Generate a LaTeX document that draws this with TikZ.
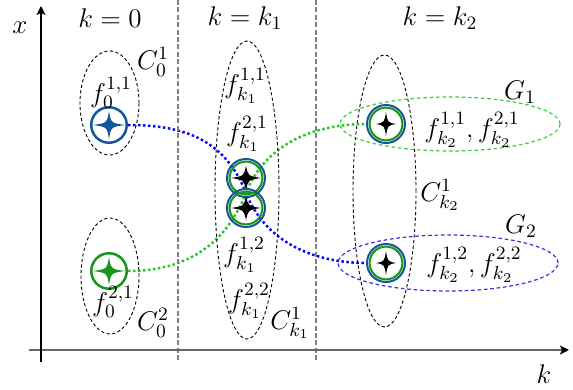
\RequirePackage{fix-cm}
\documentclass[tikz,border=0pt]{standalone}
\usetikzlibrary{arrows.meta,shapes.geometric,calc,backgrounds}
\definecolor{nblue}{RGB}{20,85,155}
\definecolor{ngreen}{RGB}{25,150,25}
\definecolor{lblue}{RGB}{10,10,240}
\definecolor{lgreen}{RGB}{40,200,40}
\definecolor{gblue}{RGB}{50,50,230}
\definecolor{ggreen}{RGB}{60,205,60}
% #1 colour, #2 half width, #3 half height, #4 control (all pt numbers)
\newcommand{\fourstar}[4]{\fill[#1,shift={(path picture bounding box.center)}]
  (0pt,#3pt) .. controls (#4pt,#4pt) .. (#2pt,0pt) .. controls (#4pt,-#4pt) .. (0pt,-#3pt)
  .. controls (-#4pt,-#4pt) .. (-#2pt,0pt) .. controls (-#4pt,#4pt) .. cycle;}
\tikzset{
  lbl/.style={font=\fontsize{13.5}{16}\selectfont, inner sep=0pt},
  zeronode/.style={circle, draw=#1, line width=1.25pt, minimum size=17.75pt, inner sep=0pt,
     path picture={\fourstar{#1}{8}{7}{1}}},
  konenode/.style={circle, draw=nblue, line width=1pt, minimum size=19pt, inner sep=0pt,
     path picture={\draw[ngreen,line width=1pt] (path picture bounding box.center) circle (8.2pt);
       \fourstar{black}{7.5}{6.25}{1}}},
  ktwonode/.style={circle, draw=nblue, line width=1pt, minimum size=19pt, inner sep=0pt,
     path picture={\draw[ngreen,line width=1pt] (path picture bounding box.center) circle (8.2pt);
       \fourstar{black}{5}{6}{0.8}}},
  cluster/.style={ellipse, draw=black, line width=0.45pt, dash pattern=on 1.6pt off 1.2pt, inner sep=0pt},
  grpgreen/.style={ellipse, draw=ggreen, line width=0.6pt, dash pattern=on 1.8pt off 1.4pt, inner sep=0pt},
  grpblue/.style={ellipse, draw=gblue, line width=0.6pt, dash pattern=on 1.8pt off 1.4pt, inner sep=0pt},
  bdot/.style={lblue, line width=1.25pt, dash pattern=on 1.25pt off 1.25pt},
  gdot/.style={lgreen, line width=1.25pt, dash pattern=on 1.25pt off 1.25pt},
  sep/.style={gray, line width=0.9pt, dash pattern=on 2.5pt off 1.2pt},
}
\begin{document}
\begin{tikzpicture}[x=0.5pt,y=-0.5pt]
\useasboundingbox (0,0) rectangle (573,390);

% separators
\draw[sep] (178,0) -- (178,362);
\draw[sep] (316,0) -- (316,362);

% axes
\coordinate (xa0) at (29,350);
\coordinate (xa1) at (569,350);
\coordinate (ya0) at (41,362);
\coordinate (ya1) at (41,6);
\draw[black!60, line width=0.9pt, -{Stealth[black,length=4.5pt,width=4.5pt,inset=1pt]}] (xa0) -- (xa1);
\draw[black, line width=0.7pt, -{Stealth[length=4.5pt,width=4.5pt,inset=1pt]}] (ya0) -- (ya1);
\node[lbl] (xl) at (20,28) {$x$};
\node[lbl] (kl) at (544,374) {$k$};

% headers
\node[lbl] (h0) at (110,18) {$k=0$};
\node[lbl] (h1) at (245,18) {$k=k_1$};
\node[lbl] (h2) at (440,18) {$k=k_2$};

% cluster ellipses
\node[cluster, minimum width=29.5pt, minimum height=52pt] (C01) at (109.5,103) {};
\node[cluster, minimum width=29pt, minimum height=58pt] (C02) at (110,276) {};
\node[cluster, minimum width=32pt, minimum height=149pt] (Ck1) at (247,190) {};
\node[cluster, minimum width=31.5pt, minimum height=136pt] (Ck2) at (384.5,191) {};
\node[grpgreen, minimum width=110pt, minimum height=27pt] (G1e) at (450,124) {};
\node[grpblue, minimum width=110pt, minimum height=28pt] (G2e) at (448,263) {};

% points
\node[zeronode=nblue] (n0a) at (109,125) {};
\node[zeronode=ngreen] (n0b) at (109,271) {};
\node[konenode] (k1a) at (246,178) {};
\node[konenode] (k1b) at (246,208) {};
\node[ktwonode] (k2a) at (386,124) {};
\node[ktwonode] (k2b) at (386,263) {};
\coordinate (m) at ($(k1a)!0.5!(k1b)$);

% trajectories
\begin{scope}[on background layer]
\draw[bdot] (n0a.east) .. controls (185,125) and (225,140) .. (m)
   .. controls (267,246) and (320,263) .. (k2b.west);
\draw[gdot] (n0b.east) .. controls (185,271) and (225,246) .. (m)
   .. controls (267,140) and (320,124) .. (k2a.west);
\end{scope}

% labels
\node[lbl] (f011) at (111,93) {$f_0^{1,1}$};
\node[lbl] (c01) at (153,62) {$C_0^1$};
\node[lbl] (f021) at (113,302) {$f_0^{2,1}$};
\node[lbl] (c02) at (153,323) {$C_0^2$};
\node[lbl] (fk111) at (245,86) {$f_{k_1}^{1,1}$};
\node[lbl] (fk121) at (247,134) {$f_{k_1}^{2,1}$};
\node[lbl] (fk112) at (244,255) {$f_{k_1}^{1,2}$};
\node[lbl] (fk122) at (249,301) {$f_{k_1}^{2,2}$};
\node[lbl] (ck1) at (290,323) {$C_{k_1}^1$};
\node[lbl] (ck2) at (440,195) {$C_{k_2}^1$};
\node[lbl] (g1) at (520,92) {$G_1$};
\node[lbl] (g2) at (521,226) {$G_2$};
\node[lbl] (fg1) at (472,130) {$f_{k_2}^{1,1}, f_{k_2}^{2,1}$};
\node[lbl] (fg2) at (474,265) {$f_{k_2}^{1,2}, f_{k_2}^{2,2}$};
\end{tikzpicture}
\end{document}
